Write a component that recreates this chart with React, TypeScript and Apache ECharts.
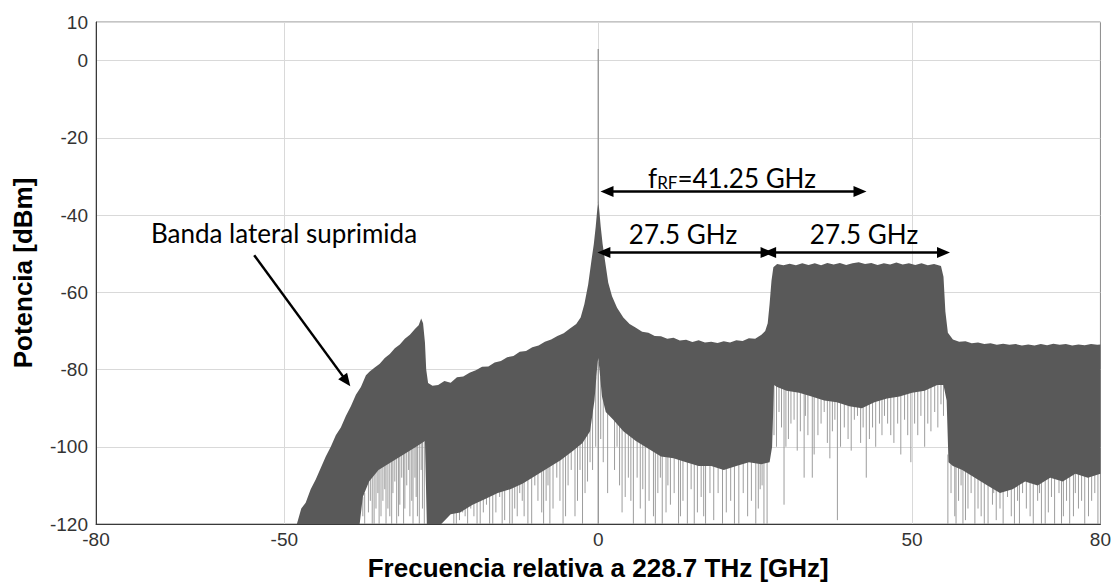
import React, { useEffect, useRef } from "react";
import * as echarts from "echarts";

// Upper envelope of the measured spectrum [GHz, dBm]
const upperEnv: [number, number][] = [
  [-48.0, -120], [-47.3, -116], [-46.6, -114.5], [-45.8, -111], [-45.0, -108.5], [-44.2, -105.5],
  [-43.4, -102.5], [-42.6, -100], [-41.8, -97], [-41.0, -95], [-40.2, -92], [-39.4, -89.5],
  [-38.6, -86.5], [-37.8, -84.5], [-37.0, -81.5], [-36.4, -80.5], [-35.6, -79.5], [-34.8, -78.5],
  [-34.0, -77], [-33.2, -76], [-32.4, -74.5], [-31.6, -73.5], [-30.8, -72], [-30.0, -71],
  [-29.2, -69.5], [-28.6, -68.5], [-28.2, -66.8], [-27.9, -68], [-27.6, -73], [-27.4, -80],
  [-27.1, -83.5], [-26.4, -84.2], [-25.5, -84], [-24.5, -83], [-23.5, -83.4], [-22.5, -82],
  [-21.5, -81.8], [-20.5, -80.8], [-19.5, -80.2], [-18.5, -79.3], [-17.5, -79.2], [-16.5, -78.2],
  [-15.5, -77.8], [-14.5, -76.8], [-13.5, -76.5], [-12.5, -75.4], [-11.5, -75.2], [-10.5, -74.2],
  [-9.5, -73.8], [-8.5, -72.8], [-7.5, -72.2], [-6.5, -71.3], [-5.5, -70.6], [-4.5, -69.4],
  [-3.5, -68.2], [-2.8, -66.5], [-2.2, -63], [-1.6, -58], [-1.1, -52], [-0.7, -47.5],
  [-0.4, -43], [-0.15, -38.5], [0, -36], [0.15, -38.5], [0.4, -43], [0.7, -47.5],
  [1.1, -52], [1.6, -57.5], [2.2, -61], [3.0, -64], [4.0, -66.5], [5.0, -68.2],
  [6.0, -69.2], [7.0, -70.2], [8.0, -70.5], [9.0, -71.3], [10.0, -71.4], [11.0, -72],
  [12.0, -71.8], [13.0, -72.5], [14.0, -72.3], [15.0, -72.9], [16.0, -72.4], [17.0, -73],
  [18.0, -72.8], [19.0, -73.1], [20.0, -72.7], [21.0, -73], [22.0, -72.4], [23.0, -72.6],
  [24.0, -71.9], [25.0, -72], [26.0, -71], [26.6, -70], [27.0, -68], [27.3, -63],
  [27.6, -57], [27.9, -53.5], [28.5, -52.7], [29.5, -53], [30.5, -52.6], [31.5, -53],
  [32.5, -52.5], [33.5, -52.9], [34.5, -52.5], [35.5, -53], [36.5, -52.4], [37.5, -52.8],
  [38.5, -52.4], [39.5, -52.9], [40.5, -52.5], [41.5, -52.2], [42.5, -52.7], [43.5, -52.4],
  [44.5, -52.9], [45.5, -52.5], [46.5, -52.8], [47.5, -52.3], [48.5, -52.8], [49.5, -52.5],
  [50.5, -52.9], [51.5, -52.5], [52.5, -53], [53.5, -52.7], [54.6, -53.2], [55.0, -56],
  [55.3, -65], [55.7, -70.5], [56.5, -72.2], [57.5, -72.8], [58.5, -72.7], [59.5, -73.2],
  [60.5, -73], [61.5, -73.4], [62.5, -73.2], [63.5, -73.6], [64.5, -73.3], [65.5, -73.6],
  [66.5, -73.4], [67.5, -73.8], [68.5, -73.5], [69.5, -73.8], [70.5, -73.4], [71.5, -73.7],
  [72.5, -73.3], [73.5, -73.6], [74.5, -73.4], [75.5, -73.8], [76.5, -73.5], [77.5, -73.7],
  [78.5, -73.4], [79.5, -73.6], [80.0, -73.5],
];

// Lower edge of the dense part of the trace [GHz, dBm]
const lowerEnv: [number, number][] = [
  [-48.0, -120], [-38.0, -120], [-37.5, -113], [-36.5, -109], [-35.0, -106], [-33.0, -104],
  [-31.0, -102], [-29.0, -100], [-27.6, -98.5], [-27.3, -120], [-25.0, -120], [-23.5, -117.5],
  [-22.0, -117], [-20.0, -115], [-18.0, -113.5], [-16.0, -112], [-14.0, -111], [-12.0, -109.5],
  [-10.0, -107.5], [-8.0, -105.5], [-6.0, -103.5], [-4.0, -101], [-2.5, -99], [-1.3, -96],
  [-0.6, -88], [-0.2, -80], [0, -77], [0.2, -80], [0.6, -87], [1.2, -91],
  [2.4, -93], [4.0, -96], [6.0, -98.5], [8.0, -100.5], [10.0, -102.5], [12.0, -103],
  [14.0, -104], [16.0, -105], [18.0, -105], [20.0, -106], [22.0, -105], [24.0, -104],
  [26.0, -104.5], [27.3, -104], [27.7, -100], [28.0, -84], [28.5, -84.5], [30.0, -85.5],
  [32.0, -86], [34.0, -87], [36.0, -88], [38.0, -88.5], [40.0, -89.5], [42.0, -90],
  [44.0, -88.5], [46.0, -87.5], [48.0, -87], [50.0, -86], [52.0, -85.5], [54.0, -84],
  [55.0, -84], [55.5, -88], [55.8, -104], [56.5, -105], [58.0, -106], [60.0, -108],
  [62.0, -110], [64.0, -112], [66.0, -111], [68.0, -109], [70.0, -110], [72.0, -108],
  [74.0, -109], [76.0, -107], [78.0, -108], [80.0, -107],
];

// Deep noise dips below the dense trace [GHz, top dBm, bottom dBm]
const spikes: [number, number, number][] = [
  [-37.5, -113, -118], [-37.2, -112, -120], [-36.6, -109, -117], [-36.3, -108, -114], [-36.0, -107, -120],
  [-35.7, -107, -120], [-35.4, -106, -116], [-35.1, -106, -112], [-34.9, -105, -120], [-34.6, -105, -118],
  [-34.3, -104, -114], [-34.0, -104, -111], [-33.8, -103, -120], [-33.5, -103, -116], [-33.2, -103, -118],
  [-32.9, -102, -120], [-32.7, -102, -112], [-32.4, -102, -109], [-32.1, -101, -120], [-31.8, -101, -118],
  [-31.6, -101, -115], [-31.3, -100, -108], [-31.0, -100, -120], [-30.8, -100, -116], [-30.5, -99, -110],
  [-30.2, -99, -106], [-30.0, -99, -118], [-29.7, -98, -114], [-29.5, -98, -120], [-29.2, -98, -108],
  [-29.0, -98, -113], [-28.8, -97, -118], [-28.5, -97, -120], [-28.2, -97, -106], [-28.0, -97, -116],
  [-27.7, -96, -120],
  [-23.0, -116, -120], [-22.6, -115, -120], [-22.1, -115, -119], [-21.6, -115, -117], [-21.2, -114, -118],
  [-20.8, -114, -120], [-20.3, -113, -116], [-19.8, -113, -118], [-19.3, -112, -120], [-18.8, -112, -120],
  [-18.3, -111, -117], [-17.8, -111, -115], [-17.3, -110, -120], [-16.8, -110, -120], [-16.3, -110, -117],
  [-15.7, -110, -113], [-15.3, -109, -120], [-14.9, -109, -119], [-14.1, -109, -120], [-13.7, -108, -120],
  [-13.3, -108, -116], [-12.9, -107, -118], [-12.5, -107, -112], [-12.1, -107, -114], [-11.8, -106, -118],
  [-11.2, -106, -120], [-10.6, -105, -120], [-10.1, -105, -110], [-9.6, -104, -114], [-9.0, -104, -117],
  [-8.7, -103, -120], [-8.3, -103, -114], [-8.0, -103, -110], [-7.7, -103, -120], [-7.2, -102, -116],
  [-6.6, -101, -108], [-6.1, -100, -114], [-5.6, -100, -120], [-5.2, -99, -118], [-4.8, -99, -110],
  [-4.3, -98, -106], [-3.7, -98, -118], [-3.3, -97, -114], [-2.9, -97, -106], [-2.5, -96, -120],
  [-2.1, -95, -112], [-1.7, -94, -109], [-1.3, -93, -104],
  [-0.9, -88, -106], [-0.4, -82, -100], [0.4, -82, -98], [0.8, -86, -104], [1.5, -89, -112],
  [2.6, -91, -106], [3.0, -92, -100], [3.4, -93, -110], [3.8, -94, -117], [4.3, -94, -113],
  [4.8, -95, -108], [5.2, -95, -114], [5.6, -95, -120], [6.2, -96, -108], [6.7, -97, -116],
  [7.1, -97, -111], [7.5, -98, -120], [8.1, -98, -114], [8.8, -99, -118], [9.1, -99, -120],
  [9.5, -100, -112], [9.9, -100, -108], [10.2, -100, -120], [10.8, -100, -117], [11.1, -100, -110],
  [11.5, -101, -115], [12.1, -101, -112], [12.8, -101, -120], [13.1, -101, -118], [13.5, -102, -114],
  [14.2, -102, -120], [14.8, -102, -111], [15.3, -102, -120], [15.8, -103, -117], [16.4, -103, -113],
  [16.8, -103, -118], [17.1, -103, -120], [17.8, -103, -112], [18.4, -103, -119], [19.1, -104, -112],
  [19.8, -104, -120], [20.4, -104, -117], [21.1, -103, -114], [21.7, -103, -120], [22.4, -103, -120],
  [23.1, -102, -112], [23.8, -102, -118], [24.4, -102, -114], [25.1, -102, -120], [25.5, -102, -116],
  [25.8, -102, -111], [26.1, -102, -110], [26.4, -102, -120], [26.9, -102, -120],
  [28.0, -82, -97], [28.4, -82, -100], [28.8, -83, -91], [29.2, -83, -95], [29.6, -83, -115],
  [29.9, -83, -100], [30.3, -83, -98], [30.7, -84, -94], [31.2, -84, -93], [31.7, -84, -101],
  [32.2, -84, -96], [32.8, -84, -108], [33.0, -84, -92], [33.4, -85, -97], [34.1, -85, -108],
  [34.4, -85, -102], [35.0, -85, -97], [35.5, -86, -94], [36.0, -86, -91], [36.5, -86, -99],
  [36.9, -86, -103], [37.3, -86, -96], [37.7, -86, -93], [38.1, -86, -119], [38.6, -87, -100],
  [39.2, -87, -95], [39.8, -87, -98], [40.3, -87, -101], [40.8, -87, -93], [41.3, -88, -92],
  [41.8, -88, -99], [42.2, -88, -95], [42.7, -88, -108], [43.2, -87, -98], [43.7, -87, -95],
  [44.2, -86, -100], [44.8, -86, -94], [45.2, -86, -97], [45.6, -86, -92], [46.1, -85, -94],
  [46.6, -85, -97], [47.1, -85, -99], [47.7, -85, -94], [48.2, -85, -102], [48.8, -84, -93],
  [49.3, -84, -97], [49.8, -84, -104], [50.4, -84, -94], [50.9, -84, -97], [51.4, -84, -92],
  [52.0, -83, -100], [52.5, -83, -94], [53.0, -83, -96], [53.6, -82, -91], [54.1, -82, -95],
  [54.6, -82, -89], [55.0, -82, -92],
  [55.7, -102, -120], [56.2, -104, -112], [56.8, -104, -118], [57.0, -104, -120], [57.4, -104, -114],
  [57.8, -104, -110], [58.1, -104, -120], [58.5, -105, -119], [58.9, -105, -116], [59.4, -105, -112],
  [60.0, -106, -120], [60.5, -106, -116], [61.0, -107, -118], [61.5, -107, -120], [62.1, -108, -120],
  [62.8, -108, -115], [63.0, -108, -112], [63.4, -109, -119], [64.0, -109, -116], [64.5, -109, -120],
  [65.2, -109, -113], [65.8, -109, -118], [66.3, -108, -120], [66.8, -108, -114], [67.1, -107, -120],
  [67.6, -107, -112], [68.2, -107, -116], [68.8, -107, -118], [69.3, -107, -120], [70.0, -108, -114],
  [70.3, -108, -112], [70.6, -108, -120], [71.2, -107, -120], [71.7, -107, -117], [72.2, -106, -113],
  [72.7, -106, -120], [73.4, -107, -112], [73.8, -107, -120], [74.1, -107, -118], [74.6, -106, -114],
  [75.1, -105, -120], [75.7, -105, -118], [76.0, -105, -112], [76.5, -105, -116], [77.0, -106, -114],
  [77.5, -106, -120], [78.1, -106, -118], [78.6, -106, -114], [79.1, -105, -112], [79.6, -105, -120],
];

// Optical carrier line at 0 GHz [GHz, top, bottom]
const carrier: [number, number, number][] = [
  [0, 3, -37],
  [0, -78, -120],
];

// Annotation arrows in data coordinates
const fRfArrow: [number, number][] = [[1.4, -33.9], [41.7, -33.9]];
const band1Arrow: [number, number][] = [[0.9, -49.7], [26.9, -49.7]];
const band2Arrow: [number, number][] = [[27.3, -49.7], [55.0, -49.7]];
const sidebandArrow: [number, number][] = [[-54.8, -50.4], [-40.1, -83.0]];

const xTickLabels = [-80, -50, 0, 50, 80];
const xGridLines = [-50, 0, 50];
const xRange = { min: -80, max: 80, interval: 10 };
const yTicks = { min: -120, max: 10, interval: 20 };

const FILL = "#595959";
const SPIKE = "#9d9d9d";
const GRID = "#d9d9d9";
const ANN_FONT = "Lato, 'Open Sans', sans-serif";
const AX_FONT = "'Liberation Sans', Arial, sans-serif";

export default function App() {
  const ref = useRef<HTMLDivElement>(null);

  useEffect(() => {
    document.body.style.margin = "0";
    if (!ref.current) return;
    const chart = echarts.init(ref.current, null, { renderer: "svg" });

    const lineSpikeRender = (color: string, width: number) => (params: any, api: any) => {
      const x = api.value(0);
      const p1 = api.coord([x, api.value(1)]);
      const p2 = api.coord([x, api.value(2)]);
      return {
        type: "line",
        shape: { x1: p1[0], y1: p1[1], x2: p2[0], y2: p2[1] },
        style: { stroke: color, lineWidth: width },
      };
    };

    const arrowPair = (pts: [number, number][], startArrow: boolean) => [
      { coord: pts[0], symbol: startArrow ? "triangle" : "none" },
      { coord: pts[1], symbol: "triangle" },
    ];

    const option: any = {
      animation: false,
      backgroundColor: "#ffffff",
      grid: {
        left: 96,
        right: 13,
        top: 22,
        bottom: 59,
        show: true,
        borderColor: "#8a8a8a",
        borderWidth: 1,
      },
      xAxis: {
        type: "value",
        min: xRange.min,
        max: xRange.max,
        interval: xRange.interval,
        axisLine: { show: true, onZero: false, lineStyle: { color: "#3a3a3a", width: 1 } },
        axisTick: { show: false },
        axisLabel: {
          color: "#333",
          fontSize: 19,
          fontFamily: AX_FONT,
          margin: 6,
          customValues: xTickLabels,
        },
        splitLine: { show: false },
        name: "Frecuencia relativa a 228.7 THz [GHz]",
        nameLocation: "middle",
        nameGap: 31,
        nameTextStyle: { fontSize: 26, fontWeight: "bold", color: "#000", fontFamily: AX_FONT },
      },
      yAxis: {
        type: "value",
        min: yTicks.min,
        max: yTicks.max,
        interval: yTicks.interval,
        axisLine: { show: true, onZero: false, lineStyle: { color: "#3a3a3a", width: 1 } },
        axisTick: { show: false },
        axisLabel: { color: "#333", fontSize: 19, fontFamily: AX_FONT, margin: 8 },
        splitLine: { show: true, lineStyle: { color: GRID, width: 1 } },
        name: "Potencia [dBm]",
        nameLocation: "middle",
        nameGap: 60,
        nameTextStyle: { fontSize: 26, fontWeight: "bold", color: "#000", fontFamily: AX_FONT },
      },
      series: [
        {
          type: "line",
          name: "xgrid",
          data: [],
          z: 0,
          silent: true,
          markLine: {
            z: 0,
            silent: true,
            animation: false,
            symbol: ["none", "none"],
            label: { show: false },
            lineStyle: { color: GRID, width: 1, type: "solid" },
            data: xGridLines.map((v) => ({ xAxis: v })),
          },
        },
        {
          type: "custom",
          name: "dips",
          z: 2,
          clip: true,
          data: spikes,
          encode: { x: 0, y: [1, 2] },
          renderItem: lineSpikeRender(SPIKE, 1),
          silent: true,
        },
        {
          type: "custom",
          name: "spectrum",
          z: 3,
          clip: true,
          data: upperEnv,
          encode: { x: 0, y: 1 },
          silent: true,
          renderItem: (params: any, api: any) => {
            if (params.dataIndex !== 0) return null;
            const pts = [
              ...upperEnv.map((p) => api.coord(p)),
              ...lowerEnv.slice().reverse().map((p) => api.coord(p)),
            ];
            return { type: "polygon", shape: { points: pts }, style: { fill: FILL } };
          },
        },
        {
          type: "custom",
          name: "carrier",
          z: 4,
          clip: true,
          data: carrier,
          encode: { x: 0, y: [1, 2] },
          renderItem: lineSpikeRender("#8c8c8c", 1.2),
          silent: true,
        },
        {
          type: "line",
          name: "annotations",
          data: [],
          z: 6,
          silent: true,
          markLine: {
            z: 6,
            silent: true,
            animation: false,
            symbolSize: [11, 13],
            label: { show: false },
            lineStyle: { color: "#000", width: 2.5, type: "solid" },
            data: [
              arrowPair(fRfArrow, true),
              arrowPair(band1Arrow, true),
              arrowPair(band2Arrow, true),
              arrowPair(sidebandArrow, false),
            ],
          },
        },
      ],
      graphic: [
        {
          type: "text",
          x: 284,
          y: 233,
          z: 10,
          style: {
            text: "Banda lateral suprimida",
            fontSize: 26,
            fontFamily: ANN_FONT,
            fill: "#000",
            align: "center",
            verticalAlign: "middle",
          },
        },
        {
          type: "text",
          x: 732,
          y: 176,
          z: 10,
          style: {
            text: "{f|f}{s|RF}{n|=41.25 GHz}",
            fill: "#000",
            align: "center",
            verticalAlign: "middle",
            rich: {
              f: { fontSize: 26, fontFamily: ANN_FONT, fill: "#000", verticalAlign: "bottom", lineHeight: 30 },
              s: { fontSize: 17, fontFamily: ANN_FONT, fill: "#000", verticalAlign: "bottom", lineHeight: 24 },
              n: { fontSize: 26, fontFamily: ANN_FONT, fill: "#000", verticalAlign: "bottom", lineHeight: 30 },
            },
          },
        },
        {
          type: "text",
          x: 683,
          y: 234,
          z: 10,
          style: {
            text: "27.5 GHz",
            fontSize: 26,
            fontFamily: ANN_FONT,
            fill: "#000",
            align: "center",
            verticalAlign: "middle",
          },
        },
        {
          type: "text",
          x: 864,
          y: 234,
          z: 10,
          style: {
            text: "27.5 GHz",
            fontSize: 26,
            fontFamily: ANN_FONT,
            fill: "#000",
            align: "center",
            verticalAlign: "middle",
          },
        },
      ],
    };

    chart.setOption(option);
    return () => chart.dispose();
  }, []);

  return <div ref={ref} style={{ width: 1114, height: 586 }} />;
}
